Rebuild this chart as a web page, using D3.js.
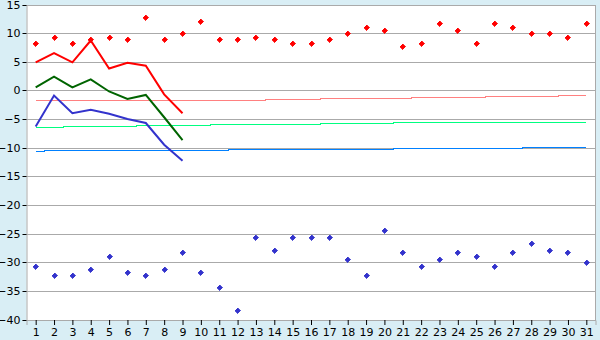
<!DOCTYPE html>
<html>
<head>
<meta charset="utf-8">
<script src="https://cdn.jsdelivr.net/npm/d3@7"></script>
<style>
  body { margin: 0; background: #d9eef5; }
  svg { display: block; font-family: "DejaVu Sans", Verdana, sans-serif; font-size: 11px; }
</style>
</head>
<body>
<div id="chart"></div>
<script>
// day numbers of the month
const days = d3.range(1, 32);

// daily extremes (diamonds)
const maxTemps = [8.3, 9.4, 8.3, 9.0, 9.4, 9.0, 12.9, 9.0, 10.0, 12.2,
  9.0, 9.0, 9.4, 9.0, 8.3, 8.3, 9.0, 10.0, 11.1, 10.6,
  7.8, 8.3, 11.8, 10.6, 8.3, 11.8, 11.1, 10.0, 10.0, 9.4, 11.8];
const minTemps = [-30.6, -32.2, -32.2, -31.2, -28.9, -31.7, -32.2, -31.2, -28.2, -31.7,
  -34.3, -38.3, -25.6, -27.8, -25.6, -25.6, -25.6, -29.4, -32.2, -24.3,
  -28.2, -30.6, -29.4, -28.2, -28.9, -30.6, -28.2, -26.6, -27.8, -28.2, -29.9];

// observed daily max / mean / min (first days only)
const obsMax = [5.0, 6.6, 5.0, 8.8, 3.9, 4.9, 4.4, -0.6, -3.9];
const obsMean = [0.6, 2.5, 0.6, 2.0, -0.1, -1.4, -0.7, -4.6, -8.6];
const obsMin = [-6.2, -0.8, -3.9, -3.3, -4.0, -4.9, -5.6, -9.4, -12.2];

// normals (step lines)
const normMax = [-1.7, -1.7, -1.7, -1.7, -1.7, -1.7, -1.7, -1.7, -1.7, -1.7,
  -1.7, -1.7, -1.7, -1.5, -1.5, -1.5, -1.3, -1.3, -1.3, -1.3,
  -1.3, -1.2, -1.2, -1.2, -1.2, -1.0, -1.0, -1.0, -1.0, -0.8, -0.8];
const normMean = [-6.4, -6.4, -6.2, -6.2, -6.2, -6.2, -6.0, -6.0, -6.0, -6.0,
  -5.9, -5.9, -5.9, -5.9, -5.9, -5.9, -5.7, -5.7, -5.7, -5.7,
  -5.5, -5.5, -5.5, -5.5, -5.5, -5.5, -5.5, -5.5, -5.5, -5.5, -5.5];
const normMin = [-10.6, -10.4, -10.4, -10.4, -10.4, -10.4, -10.4, -10.4, -10.4, -10.4,
  -10.4, -10.2, -10.2, -10.2, -10.2, -10.2, -10.2, -10.2, -10.2, -10.2,
  -10.1, -10.1, -10.1, -10.1, -10.1, -10.1, -10.1, -9.9, -9.9, -9.9, -9.9];

const yTicks = d3.range(-40, 16, 5);

const W = 600, H = 340;
const plot = {left: 26.5, right: 595.5, top: 5, bottom: 320};

const svg = d3.select("#chart").append("svg")
  .attr("width", W)
  .attr("height", H);

svg.append("rect")
  .attr("x", plot.left).attr("y", plot.top + 0.5)
  .attr("width", plot.right - plot.left)
  .attr("height", plot.bottom - plot.top)
  .attr("fill", "#fff");

const x = d3.scalePoint()
  .domain(days)
  .range([plot.left, plot.right])
  .padding(0.5);

const y = d3.scaleLinear()
  .domain([-40, 15])
  .range([plot.bottom, plot.top]);

// snap to pixel rows so the 1px lines stay sharp
const py = v => Math.floor(y(v) + 0.001) + 0.5;

// grid
svg.append("g")
  .selectAll("line")
  .data(yTicks)
  .join("line")
  .attr("x1", plot.left).attr("x2", plot.right)
  .attr("y1", d => py(d))
  .attr("y2", d => py(d))
  .attr("stroke", "#aaa");

// right border
svg.append("line")
  .attr("x1", plot.right).attr("x2", plot.right)
  .attr("y1", plot.top).attr("y2", plot.bottom + 0.5)
  .attr("stroke", "#aaa");

// y axis
const yAxis = svg.append("g")
  .attr("transform", `translate(${plot.left},0)`)
  .call(d3.axisLeft(y).tickValues(yTicks).tickSize(4).tickPadding(2));
yAxis.select(".domain").attr("stroke", "#aaa");
yAxis.selectAll(".tick").attr("transform", d => `translate(0,${py(d)})`);
yAxis.selectAll(".tick line").attr("stroke", "#000");
yAxis.selectAll(".tick text").attr("font-size", 11).attr("fill", "#000")
  .attr("font-family", "DejaVu Sans, sans-serif");

// x axis
const xAxis = svg.append("g")
  .attr("transform", `translate(0,${plot.bottom})`)
  .call(d3.axisBottom(x).tickSize(5).tickPadding(3));
xAxis.select(".domain").attr("stroke", "#aaa");
xAxis.selectAll(".tick line").attr("stroke", "#000");
xAxis.selectAll(".tick text").attr("font-size", 11).attr("fill", "#000")
  .attr("font-family", "DejaVu Sans, sans-serif");

// normal step lines
const stepLine = d3.line()
  .x((d, i) => x(days[i]))
  .y(d => py(d))
  .curve(d3.curveStep);

[[normMax, "#ff8080"], [normMean, "#00ff80"], [normMin, "#0080ff"]].forEach(([vals, col]) => {
  svg.append("path")
    .datum(vals)
    .attr("d", stepLine)
    .attr("fill", "none")
    .attr("stroke", col)
    .attr("stroke-width", 1)
    .attr("shape-rendering", "crispEdges");
});

// observed lines
const obsLine = d3.line()
  .x((d, i) => x(days[i]))
  .y(d => y(d));

[[obsMax, "#ff0000"], [obsMean, "#006400"], [obsMin, "#3333cc"]].forEach(([vals, col]) => {
  svg.append("path")
    .datum(vals)
    .attr("d", obsLine)
    .attr("fill", "none")
    .attr("stroke", col)
    .attr("stroke-width", 2);
});

// small pixel-diamond markers
const marker = "M-0.5,-2.5h1v1h1v1h1v1h-1v1h-1v1h-1v-1h-1v-1h-1v-1h1v-1h1z";

[[maxTemps, "#ff0000"], [minTemps, "#3333cc"]].forEach(([vals, col]) => {
  svg.append("g")
    .selectAll("path")
    .data(vals)
    .join("path")
    .attr("transform", (d, i) => `translate(${Math.floor(x(days[i])) + 0.5},${Math.floor(y(d)) + 0.5})`)
    .attr("d", marker)
    .attr("fill", col)
    .attr("stroke", col)
    .attr("stroke-width", 0.8)
    .attr("shape-rendering", "crispEdges");
});
</script>
</body>
</html>
